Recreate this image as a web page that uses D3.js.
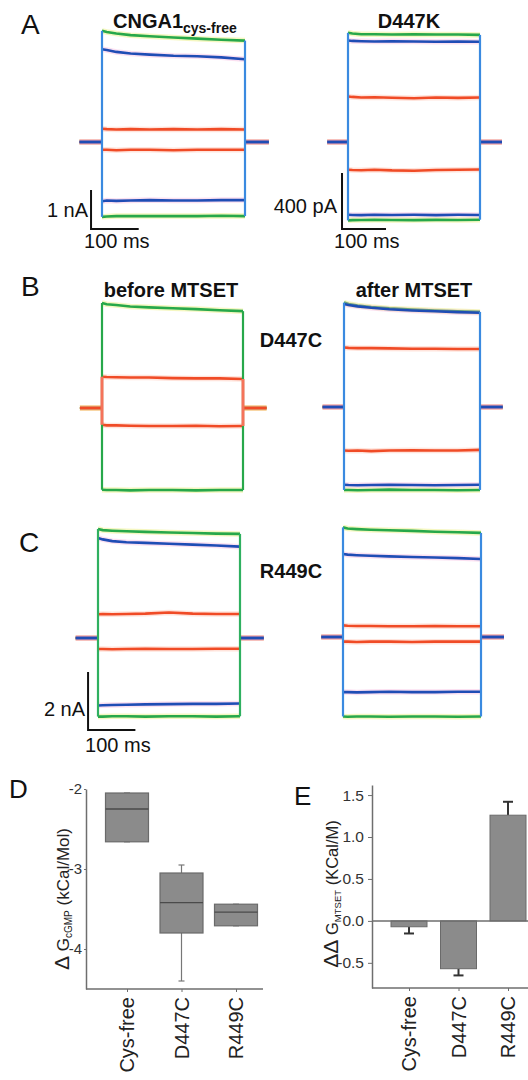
<!DOCTYPE html>
<html>
<head>
<meta charset="utf-8">
<script src="https://cdn.jsdelivr.net/npm/d3@7"></script>
<style>
  body { margin: 0; background: #fff; }
  svg { display: block; font-family: "Liberation Sans", Arial, sans-serif; }
</style>
</head>
<body>
<svg id="fig" width="528" height="1080"></svg>
<script>
// sample times (ms) of the voltage step, and baseline stub extent
const tPts = [0, 10, 30, 60, 100, 150, 200, 250, 300];
const stubT = [-47, 350];

// trace order in every panel: green top, blue top, red top, red bottom, blue bottom, green bottom
const traceColors = ["#27a84a", "#1f4db5", "#f04b26", "#f04b26", "#1f4db5", "#27a84a"];
const haloColors = ["#e3e84c", "#f3a6d6", "#ffb39c", "#ffb39c", "#f3a6d6", "#e3e84c"];
const drawOrder = [0, 5, 2, 3, 1, 4];

// A, CNGA1 cys-free (nA)
const tracesA1 = [
  [2.85, 2.82, 2.78, 2.74, 2.71, 2.68, 2.65, 2.62, 2.6],
  [2.38, 2.36, 2.31, 2.27, 2.24, 2.21, 2.2, 2.17, 2.12],
  [0.34, 0.33, 0.32, 0.33, 0.32, 0.33, 0.32, 0.33, 0.32],
  [-0.2, -0.2, -0.21, -0.2, -0.2, -0.21, -0.2, -0.2, -0.2],
  [-1.52, -1.5, -1.51, -1.5, -1.49, -1.5, -1.5, -1.49, -1.49],
  [-1.92, -1.91, -1.9, -1.9, -1.9, -1.9, -1.9, -1.89, -1.9]
];
// A, D447K (pA)
const tracesA2 = [
  [780, 775, 770, 770, 768, 770, 768, 768, 765],
  [725, 722, 720, 718, 720, 718, 716, 718, 716],
  [325, 322, 318, 320, 316, 312, 318, 315, 318],
  [-198, -200, -202, -198, -203, -205, -200, -198, -196],
  [-520, -521, -522, -520, -521, -520, -522, -520, -521],
  [-560, -558, -557, -556, -557, -558, -556, -557, -555]
];
// B, D447C before / after MTSET (nA)
const tracesB1 = [
  [3.62, 3.58, 3.55, 3.5, 3.47, 3.44, 3.41, 3.37, 3.34],
  null,
  [1.08, 1.07, 1.06, 1.05, 1.05, 1.03, 1.02, 1.02, 1.0],
  [-0.58, -0.6, -0.6, -0.61, -0.62, -0.62, -0.61, -0.63, -0.62],
  null,
  [-2.82, -2.83, -2.83, -2.84, -2.83, -2.83, -2.84, -2.83, -2.83]
];
const tracesB2 = [
  [3.6, 3.55, 3.5, 3.45, 3.4, 3.36, 3.33, 3.3, 3.28],
  [3.55, 3.52, 3.47, 3.42, 3.37, 3.33, 3.3, 3.27, 3.25],
  [2.05, 2.04, 2.03, 2.03, 2.02, 2.01, 2.01, 2.0, 2.0],
  [-1.5, -1.51, -1.5, -1.52, -1.5, -1.49, -1.5, -1.5, -1.48],
  [-2.68, -2.69, -2.7, -2.69, -2.68, -2.69, -2.7, -2.69, -2.68],
  [-2.86, -2.86, -2.87, -2.86, -2.85, -2.86, -2.86, -2.87, -2.86]
];
// C, R449C before / after MTSET (nA)
const tracesC1 = [
  [3.76, 3.72, 3.7, 3.68, 3.66, 3.64, 3.62, 3.6, 3.59],
  [3.45, 3.4, 3.34, 3.3, 3.28, 3.25, 3.22, 3.19, 3.15],
  [0.82, 0.83, 0.82, 0.83, 0.84, 0.88, 0.84, 0.83, 0.83],
  [-0.38, -0.38, -0.39, -0.38, -0.37, -0.38, -0.38, -0.37, -0.37],
  [-2.33, -2.32, -2.31, -2.3, -2.29, -2.28, -2.27, -2.27, -2.26],
  [-2.71, -2.71, -2.7, -2.7, -2.71, -2.7, -2.7, -2.71, -2.7]
];
const tracesC2 = [
  [3.78, 3.74, 3.72, 3.7, 3.68, 3.66, 3.63, 3.61, 3.59],
  [2.86, 2.84, 2.82, 2.8, 2.78, 2.76, 2.74, 2.72, 2.69],
  [0.4, 0.39, 0.38, 0.38, 0.37, 0.37, 0.38, 0.37, 0.37],
  [-0.16, -0.16, -0.17, -0.16, -0.16, -0.17, -0.16, -0.16, -0.16],
  [-1.9, -1.9, -1.91, -1.9, -1.89, -1.9, -1.9, -1.89, -1.89],
  [-2.74, -2.75, -2.74, -2.74, -2.75, -2.74, -2.74, -2.75, -2.74]
];

// D, box plot of dG cGMP
const boxCats = ["Cys-free", "D447C", "R449C"];
const boxHigh = [-2.05, -3.05, -3.44];
const boxMedian = [-2.25, -3.42, -3.54];
const boxLow = [-2.66, -3.8, -3.71];
const whiskerHigh = [-2.05, -2.95, -3.44];
const whiskerLow = [-2.66, -4.4, -3.71];
const boxTicks = [-2, -3, -4];

// E, ddG MTSET bars
const barCats = ["Cys-free", "D447C", "R449C"];
const barValues = [-0.07, -0.57, 1.26];
const barErrors = [0.08, 0.08, 0.16];
const barTicks = [-0.5, 0, 0.5, 1, 1.5];

const svg = d3.select("#fig");
const lineGen = d3.line();

// layout of the six trace panels
const panels = [
  { traces: tracesA1, x0: 102, x1: 245, base: 142, ppu: 39, edge: "#3a8ae0",
    bar: { t: -23, v: -2.23, dv: 1, vLabel: "1 nA", vdx: -3, vdy: -12, tdx: -7, tdy: 19 } },
  { traces: tracesA2, x0: 348, x1: 480, base: 142, ppu: 0.14, edge: "#3a8ae0",
    bar: { t: -13.6, v: -621, dv: 400, vLabel: "400 pA", vdx: -5, vdy: -16, tdx: -8, tdy: 19 } },
  { traces: tracesB1, x0: 102, x1: 243, base: 408, ppu: 29, edge: "#27a84a", redEdge: true },
  { traces: tracesB2, x0: 344, x1: 480, base: 407, ppu: 29, edge: "#3a8ae0" },
  { traces: tracesC1, x0: 98, x1: 240, base: 638, ppu: 29, edge: "#2fb060",
    bar: { t: -21, v: -3.17, dv: 2, vLabel: "2 nA", vdx: -3, vdy: -14, tdx: -3, tdy: 22 } },
  { traces: tracesC2, x0: 343, x1: 481, base: 637, ppu: 29, edge: "#3a8ae0" }
];

function drawPanel(p) {
  const x = d3.scaleLinear().domain([0, 300]).range([p.x0, p.x1]);
  const y = d3.scaleLinear().domain([0, 1]).range([p.base, p.base - p.ppu]);
  const g = svg.append("g");

  drawOrder.forEach(i => {
    const vals = p.traces[i];
    if (!vals) return;
    const segs = [
      [[stubT[0], 0], [0, 0]],
      tPts.map((t, k) => [t, vals[k]]),
      [[300, 0], [stubT[1], 0]]
    ];
    segs.forEach(s => {
      const d = lineGen(s.map(([t, v]) => [x(t), y(v)]));
      g.append("path").attr("d", d).attr("fill", "none")
        .attr("stroke", haloColors[i]).attr("stroke-width", 5.5).attr("stroke-opacity", 0.35);
      g.append("path").attr("d", d).attr("fill", "none")
        .attr("stroke", traceColors[i]).attr("stroke-width", 2.6);
    });
  });

  // capacitive edges of the step
  const live = p.traces.filter(Boolean);
  [[0, live.map(v => v[0])], [300, live.map(v => v[v.length - 1])]].forEach(([t, vs]) => {
    g.append("line")
      .attr("x1", x(t)).attr("x2", x(t))
      .attr("y1", y(d3.max(vs))).attr("y2", y(d3.min(vs)))
      .attr("stroke", p.edge).attr("stroke-width", 2.2);
    if (p.redEdge) {
      const k = t === 0 ? 0 : tPts.length - 1;
      g.append("line")
        .attr("x1", x(t)).attr("x2", x(t))
        .attr("y1", y(p.traces[2][k])).attr("y2", y(p.traces[3][k]))
        .attr("stroke", "#f5735a").attr("stroke-width", 3);
    }
  });

  // scale bar
  if (p.bar) {
    const b = p.bar;
    const bx = x(b.t), by = y(b.v);
    g.append("path")
      .attr("d", lineGen([[bx, y(b.v + b.dv)], [bx, by], [x(b.t + 100), by]]))
      .attr("fill", "none").attr("stroke", "#111").attr("stroke-width", 2);
    g.append("text").attr("x", bx + b.vdx).attr("y", by + b.vdy)
      .attr("text-anchor", "end").attr("font-size", 20).attr("fill", "#111").text(b.vLabel);
    g.append("text").attr("x", bx + b.tdx).attr("y", by + b.tdy)
      .attr("font-size", 20).attr("fill", "#111").text("100 ms");
  }
}
panels.forEach(drawPanel);

// panel letters and titles
[["A", 21, 34, 28], ["B", 21, 296, 28], ["C", 19, 552, 28], ["D", 9, 798, 26], ["E", 294, 805, 26]]
  .forEach(([s, x, y, fs]) => {
    svg.append("text").attr("x", x).attr("y", y).attr("font-size", fs).attr("fill", "#111").text(s);
  });

const t1 = svg.append("text").attr("x", 113).attr("y", 28)
  .attr("font-size", 20).attr("font-weight", "bold").attr("fill", "#111");
t1.append("tspan").text("CNGA1");
t1.append("tspan").attr("font-size", 14).attr("dy", 5).text("cys-free");

[["D447K", 409, 28], ["before MTSET", 171, 297], ["after MTSET", 414, 297],
 ["D447C", 291, 347], ["R449C", 291, 578]].forEach(([s, x, y]) => {
  svg.append("text").attr("x", x).attr("y", y).attr("text-anchor", "middle")
    .attr("font-size", 20).attr("font-weight", "bold").attr("fill", "#111").text(s);
});

// ---- panel D: box plot
const axisCol = "#6e6e6e";
const xD = d3.scalePoint().domain(boxCats).range([127, 236]);
const yD = d3.scaleLinear().domain([-4.5, -2]).range([989, 789]);

const gD = svg.append("g");
gD.append("g").attr("transform", "translate(86,0)")
  .call(d3.axisLeft(yD).tickValues(boxTicks).tickSize(2).tickSizeOuter(0).tickPadding(2).tickFormat(d => String(d)))
  .call(a => a.select(".domain").attr("stroke", axisCol).attr("stroke-width", 1.5))
  .call(a => a.selectAll(".tick line").attr("stroke", axisCol))
  .call(a => a.selectAll("text").attr("font-size", 15).attr("fill", "#333").attr("font-family", null));
gD.append("line").attr("x1", 86).attr("x2", 263).attr("y1", 989).attr("y2", 989)
  .attr("stroke", axisCol).attr("stroke-width", 1.5);
gD.append("g").attr("transform", "translate(0,989)")
  .call(d3.axisBottom(xD).tickSize(3).tickFormat(""))
  .call(a => a.select(".domain").remove())
  .call(a => a.selectAll(".tick line").attr("stroke", axisCol));

boxCats.forEach((c, i) => {
  const cx = xD(c);
  gD.append("line").attr("x1", cx).attr("x2", cx)
    .attr("y1", yD(whiskerHigh[i])).attr("y2", yD(whiskerLow[i]))
    .attr("stroke", "#777").attr("stroke-width", 1.2);
  [whiskerHigh[i], whiskerLow[i]].forEach(v => {
    gD.append("line").attr("x1", cx - 3).attr("x2", cx + 3).attr("y1", yD(v)).attr("y2", yD(v))
      .attr("stroke", "#777").attr("stroke-width", 1.2);
  });
  gD.append("rect").attr("x", cx - 21.5).attr("width", 43)
    .attr("y", yD(boxHigh[i])).attr("height", yD(boxLow[i]) - yD(boxHigh[i]))
    .attr("fill", "#8b8b8b").attr("stroke", "#6a6a6a").attr("stroke-width", 1.2);
  gD.append("line").attr("x1", cx - 21.5).attr("x2", cx + 21.5)
    .attr("y1", yD(boxMedian[i])).attr("y2", yD(boxMedian[i]))
    .attr("stroke", "#4a4a4a").attr("stroke-width", 1.3);
  gD.append("text").attr("transform", `translate(${cx},997) rotate(-90)`)
    .attr("text-anchor", "end").attr("dy", "0.36em")
    .attr("font-size", 20).attr("fill", "#222").text(c);
});

const tD = gD.append("text").attr("transform", "translate(69,899) rotate(-90)")
  .attr("text-anchor", "middle").attr("font-size", 17).attr("fill", "#222");
tD.append("tspan").attr("font-size", 21).text("Δ ");
tD.append("tspan").text("G");
tD.append("tspan").attr("font-size", 10).attr("dy", 3).text("cGMP");
tD.append("tspan").attr("dy", -3).text(" (kCal/Mol)");

// ---- panel E: bars with error
const xE = d3.scalePoint().domain(barCats).range([409, 508]);
const yE = d3.scaleLinear().domain([-0.8, 1.62]).range([988, 785]);

const gE = svg.append("g");
gE.append("g").attr("transform", "translate(372,0)")
  .call(d3.axisLeft(yE).tickValues(barTicks).tickSize(4).tickSizeOuter(0).tickPadding(4)
    .tickFormat(d => d3.format(".1f")(d).replace("−", "-")))
  .call(a => a.select(".domain").attr("stroke", axisCol).attr("stroke-width", 1.5))
  .call(a => a.selectAll(".tick line").attr("stroke", axisCol))
  .call(a => a.selectAll("text").attr("font-size", 15.5).attr("fill", "#333").attr("font-family", null));
gE.append("line").attr("x1", 372).attr("x2", 528).attr("y1", 988).attr("y2", 988)
  .attr("stroke", axisCol).attr("stroke-width", 1.5);
gE.append("g").attr("transform", "translate(0,988)")
  .call(d3.axisBottom(xE).tickSize(3).tickFormat(""))
  .call(a => a.select(".domain").remove())
  .call(a => a.selectAll(".tick line").attr("stroke", axisCol));

barCats.forEach((c, i) => {
  const cx = xE(c), v = barValues[i];
  const sgn = v < 0 ? -1 : 1;
  const yErr = yE(v + sgn * barErrors[i]);
  gE.append("line").attr("x1", cx).attr("x2", cx).attr("y1", yE(v)).attr("y2", yErr)
    .attr("stroke", "#333").attr("stroke-width", 2);
  gE.append("line").attr("x1", cx - 5).attr("x2", cx + 5).attr("y1", yErr).attr("y2", yErr)
    .attr("stroke", "#333").attr("stroke-width", 2);
  gE.append("rect").attr("x", cx - 18).attr("width", 36)
    .attr("y", yE(Math.max(v, 0))).attr("height", Math.abs(yE(v) - yE(0)))
    .attr("fill", "#8b8b8b").attr("stroke", "#6a6a6a").attr("stroke-width", 1);
  gE.append("text").attr("transform", `translate(${cx},996) rotate(-90)`)
    .attr("text-anchor", "end").attr("dy", "0.36em")
    .attr("font-size", 20).attr("fill", "#222").text(c);
});
gE.append("line").attr("x1", 372).attr("x2", 528).attr("y1", yE(0)).attr("y2", yE(0))
  .attr("stroke", axisCol).attr("stroke-width", 1.5);

const tE = gE.append("text").attr("transform", "translate(338,894) rotate(-90)")
  .attr("text-anchor", "middle").attr("font-size", 16.5).attr("fill", "#222");
tE.append("tspan").attr("font-size", 21).text("ΔΔ ");
tE.append("tspan").text("G");
tE.append("tspan").attr("font-size", 9.5).attr("dy", 3).text("MTSET");
tE.append("tspan").attr("dy", -3).text(" (KCal/M)");
</script>
</body>
</html>
